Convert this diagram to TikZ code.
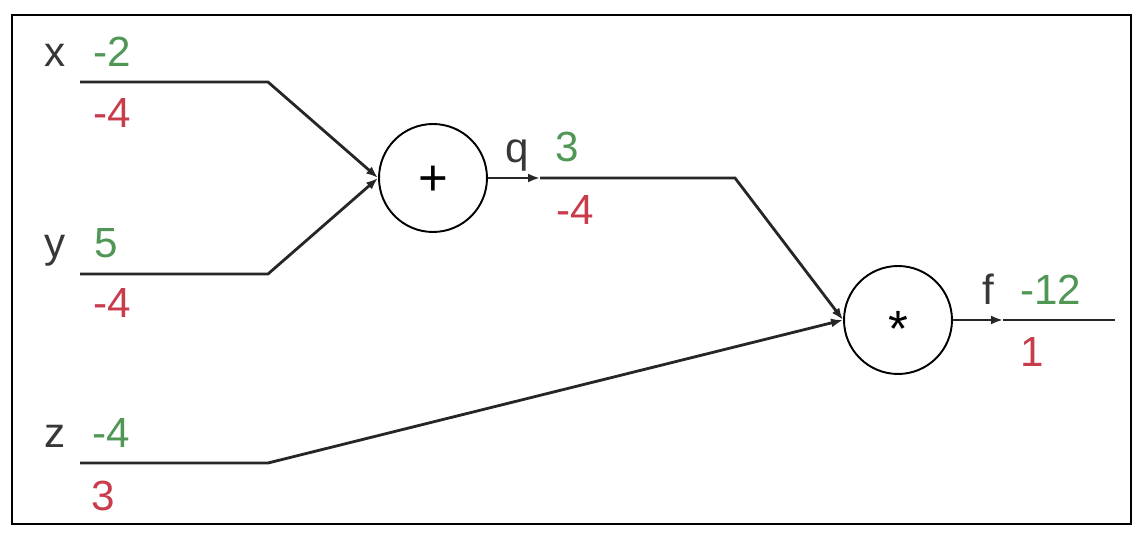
\documentclass[tikz,border=0pt]{standalone}
\usepackage{fontspec}
\setmainfont{Liberation Sans}
\usepackage{tikz}
\usetikzlibrary{arrows.meta}

\definecolor{fwdgreen}{RGB}{80,150,85}
\definecolor{bwdred}{RGB}{200,60,75}
\definecolor{namegray}{RGB}{55,55,55}

\begin{document}
\begin{tikzpicture}[x=0.02cm, y=-0.02cm,
        wire/.style = {line width=1.6pt, black!85},
        tip/.style = {-{Latex[length=2.4mm,width=1.8mm]}},
        gate/.style = {draw, circle,
            line width=1.1pt,
            minimum size=2.16cm,
            inner sep=0pt,
            font=\fontsize{29}{32}\selectfont},
        varname/.style = {anchor=base east, inner sep=0pt,
            text=namegray,
            font=\fontsize{24}{28}\selectfont},
        fwd/.style = {anchor=base west, inner sep=0pt,
            text=fwdgreen,
            font=\fontsize{24}{28}\selectfont},
        bwd/.style = {anchor=base west, inner sep=0pt,
            text=bwdred,
            font=\fontsize{24}{28}\selectfont}]

    \useasboundingbox (0,0) rectangle (1144,536);
    \draw[line width=1.6pt] (12,15) rectangle (1131,524);

    % Gates
    \node[gate] (plus) at (433,178) {\raisebox{-0.35em}[0pt][0pt]{+}};
    \node[gate] (times) at (898,320) {\raisebox{-0.52em}[0pt][0pt]{*}};

    % Wire corners
    \coordinate (xin) at (80,82);
    \coordinate (xbend) at (268,82);
    \coordinate (yin) at (80,274);
    \coordinate (ybend) at (268,274);
    \coordinate (zin) at (80,463);
    \coordinate (zbend) at (268,463);
    \coordinate (qmid) at (540,178);
    \coordinate (qbend) at (735,178);
    \coordinate (fmid) at (1003,320);
    \coordinate (fout) at (1115,320);

    % Wires
    \draw[wire, tip] (xin) -- (xbend) -- (plus.west);
    \draw[wire, tip] (yin) -- (ybend) -- (plus.west);
    \draw[wire, tip] (zin) -- (zbend) -- (times.west);
    \draw[wire, tip] (plus.east) -- (qmid);
    \draw[wire, tip] (qmid) -- (qbend) -- (times.west);
    \draw[wire, tip] (times.east) -- (fmid);
    \draw[wire] (fmid) -- (fout);

    % Names, forward values and gradients
    \node[varname] (xname) at (66,67) {x};
    \node[fwd] (xval) at (93,67) {-2};
    \node[bwd] (xgrad) at (93,128) {-4};

    \node[varname] (yname) at (66,258) {y};
    \node[fwd] (yval) at (94,258) {5};
    \node[bwd] (ygrad) at (93,318) {-4};

    \node[varname] (zname) at (66,448) {z};
    \node[fwd] (zval) at (92,448) {-4};
    \node[bwd] (zgrad) at (91,511) {3};

    \node[varname] (qname) at (529,163) {q};
    \node[fwd] (qval) at (555,162) {3};
    \node[bwd] (qgrad) at (556,225) {-4};

    \node[varname] (fname) at (995,305) {f};
    \node[fwd] (fval) at (1020,305) {-12};
    \node[bwd] (fgrad) at (1020,367) {1};

\end{tikzpicture}
\end{document}
